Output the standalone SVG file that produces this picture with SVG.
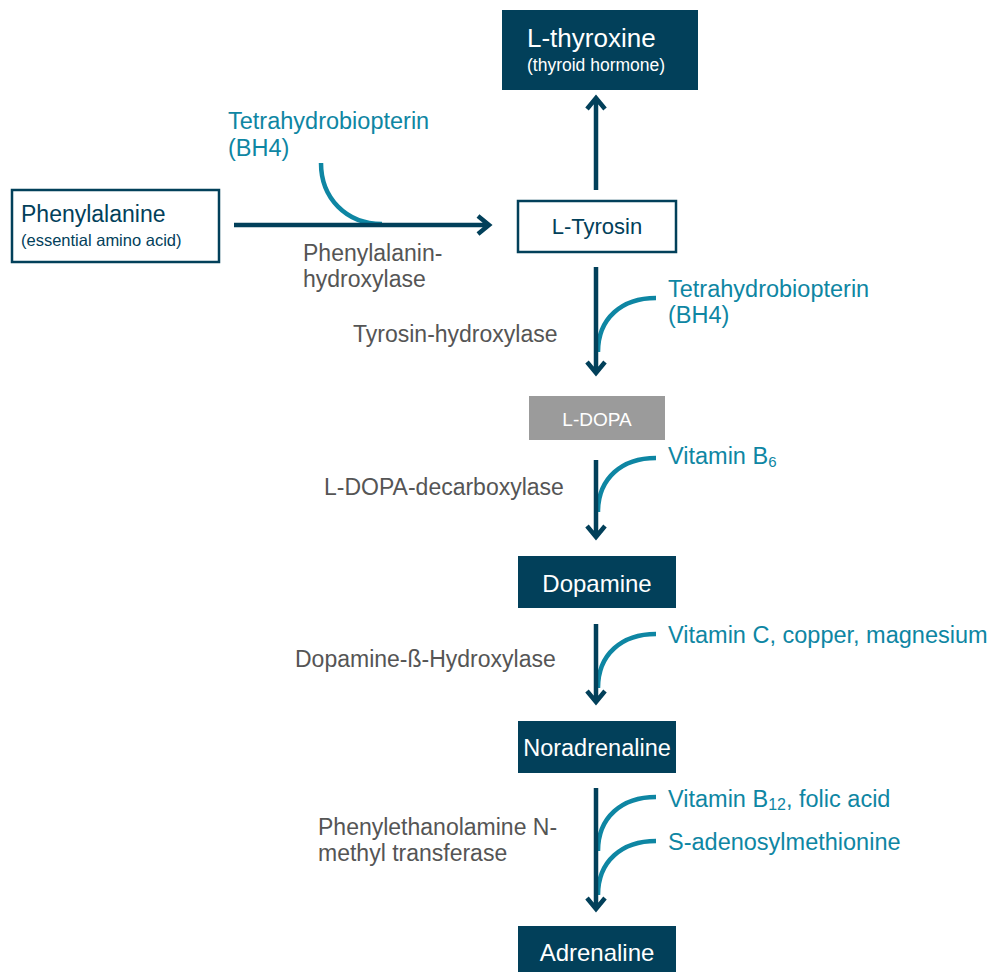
<svg xmlns="http://www.w3.org/2000/svg" width="992" height="972" viewBox="0 0 992 972">
<style>
  text { font-family: "Liberation Sans", Arial, sans-serif; }
  .dark { fill: #02405a; }
  .outline { fill: #ffffff; stroke: #02405a; stroke-width: 2.5; }
  .wt { fill: #ffffff; }
  .nt { fill: #02405a; }
  .gray { fill: #555555; font-size: 23px; }
  .teal { fill: #0e86a3; font-size: 23.5px; }
  .main { fill: none; stroke: #02405a; stroke-width: 4.5; stroke-linejoin: miter; }
  .cof { fill: none; stroke: #0e86a3; stroke-width: 4.5; }
</style>
<rect width="992" height="972" fill="#ffffff"/>

<g id="connectors">
  <path class="cof" d="M321,163 C321,198 346,224 382,224"/>
  <path class="main" d="M234,225 H488 M478,216 L489,225 L478,234"/>
  <path class="main" d="M596,190 V98 M587,109 L596,98 L605,109"/>
  <path class="cof" d="M656,298 C622,298 598,318 598,352"/>
  <path class="main" d="M596,267 V373 M587,362 L596,373 L605,362"/>
  <path class="cof" d="M656,458 C622,458 598,478 598,512"/>
  <path class="main" d="M596,460 V537 M587,526 L596,537 L605,526"/>
  <path class="cof" d="M656,634 C622,634 598,654 598,688"/>
  <path class="main" d="M596,624 V702 M587,691 L596,702 L605,691"/>
  <path class="cof" d="M656,797 C622,797 598,817 598,851"/>
  <path class="cof" d="M656,841 C622,841 598,861 598,895"/>
  <path class="main" d="M596,788 V909 M587,898 L596,909 L605,898"/>
</g>

<g id="node-thyroxine">
  <rect class="dark" x="502" y="10" width="196" height="80"/>
  <text class="wt" x="527" y="47" font-size="26">L-thyroxine</text>
  <text class="wt" x="527" y="71" font-size="17.5">(thyroid hormone)</text>
</g>

<g id="node-phenylalanine">
  <rect class="outline" x="12" y="190" width="207" height="72"/>
  <text class="nt" x="21" y="222" font-size="23">Phenylalanine</text>
  <text class="nt" x="21" y="246" font-size="16.5">(essential amino acid)</text>
</g>

<g id="node-tyrosin">
  <rect class="outline" x="518" y="201" width="158" height="51"/>
  <text class="nt" x="597" y="234" font-size="22" text-anchor="middle">L-Tyrosin</text>
</g>

<g id="node-ldopa">
  <rect x="529" y="396" width="136" height="44" fill="#9b9b9b"/>
  <text class="wt" x="597" y="426" font-size="19" text-anchor="middle">L-DOPA</text>
</g>

<g id="node-dopamine">
  <rect class="dark" x="518" y="556" width="158" height="52"/>
  <text class="wt" x="597" y="592" font-size="24" text-anchor="middle">Dopamine</text>
</g>

<g id="node-noradrenaline">
  <rect class="dark" x="518" y="721" width="158" height="52"/>
  <text class="wt" x="597" y="756" font-size="23.5" text-anchor="middle">Noradrenaline</text>
</g>

<g id="node-adrenaline">
  <rect class="dark" x="518" y="926" width="158" height="46"/>
  <text class="wt" x="597" y="961" font-size="24" text-anchor="middle">Adrenaline</text>
</g>

<g id="labels">
  <text class="teal" x="228" y="129">Tetrahydrobiopterin</text>
  <text class="teal" x="228" y="156">(BH4)</text>
  <text class="gray" x="303" y="261">Phenylalanin-</text>
  <text class="gray" x="303" y="287">hydroxylase</text>

  <text class="teal" x="668" y="297">Tetrahydrobiopterin</text>
  <text class="teal" x="668" y="323">(BH4)</text>
  <text class="gray" x="353" y="342">Tyrosin-hydroxylase</text>

  <text class="teal" x="668" y="464">Vitamin B<tspan font-size="15" dy="3">6</tspan></text>
  <text class="gray" x="324" y="495">L-DOPA-decarboxylase</text>

  <text class="teal" x="668" y="643">Vitamin C, copper, magnesium</text>
  <text class="gray" x="295" y="667">Dopamine-ß-Hydroxylase</text>

  <text class="teal" x="668" y="807">Vitamin B<tspan font-size="16" dy="3">12</tspan><tspan dy="-3">, folic acid</tspan></text>
  <text class="teal" x="668" y="850">S-adenosylmethionine</text>
  <text class="gray" x="318" y="835">Phenylethanolamine N-</text>
  <text class="gray" x="318" y="861">methyl transferase</text>
</g>
</svg>
